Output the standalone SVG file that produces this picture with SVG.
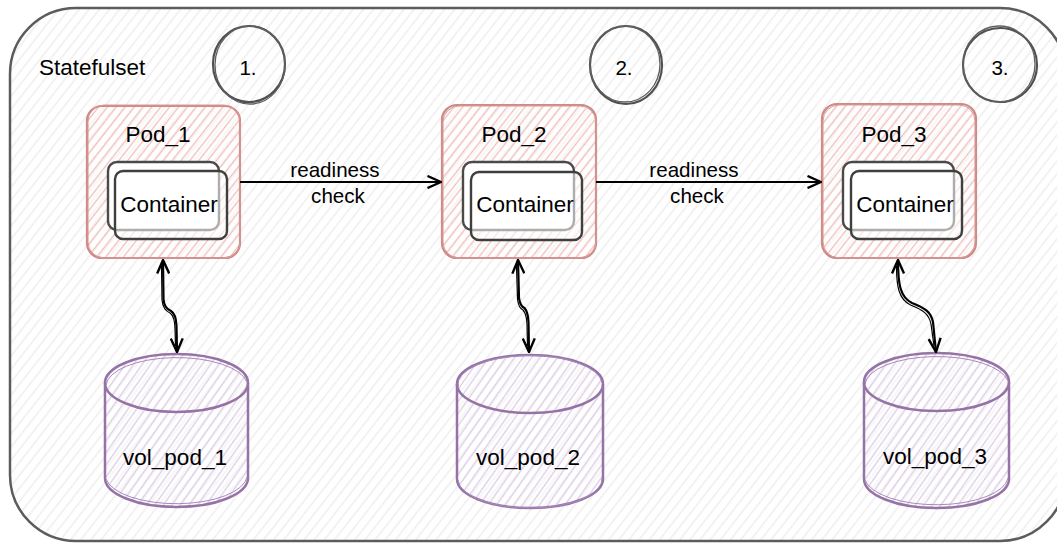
<svg xmlns="http://www.w3.org/2000/svg" width="1057" height="543" viewBox="0 0 1057 543">
  <style>
    text { font-family: "Liberation Sans", Arial, Helvetica, sans-serif; fill: #000; }
    .lbl { font-size: 22.5px; text-anchor: middle; }
    .small { font-size: 20.6px; text-anchor: middle; }
    .outer { fill: url(#hatch-grey); stroke: #5c5c5c; stroke-width: 2.5; }
    .pod { fill: url(#hatch-pink); stroke: #cf8a86; stroke-width: 2.2; }
    .pod2 { fill: none; stroke: #d99a96; stroke-width: 1; }
    .ctr-back { fill: #fff; stroke: #4a4a4a; stroke-width: 2.4; }
    .ctr-front { fill: #fff; fill-opacity: 0.55; stroke: #3f3f3f; stroke-width: 2.4; }
    .step { fill: none; stroke: #505050; stroke-width: 2.2; }
    .step2 { fill: none; stroke: #606060; stroke-width: 1.3; }
    .cyl { fill: url(#hatch-purple); stroke: #9673a6; stroke-width: 2.5; }
    .cyl2 { fill: none; stroke: #a88bb8; stroke-width: 1; }
    .edge { fill: none; stroke: #000; stroke-width: 2.2; }
    .vlink { fill: none; stroke: #000; stroke-width: 2.2; marker-start: url(#open-head); marker-end: url(#open-head); }
    .vlink2 { fill: none; stroke: #000; stroke-width: 1.2; }
  </style>
  <defs>
    <pattern id="hatch-grey" patternUnits="userSpaceOnUse" width="8" height="8" patternTransform="rotate(-52)">
      <line x1="0" y1="4" x2="8" y2="4" stroke="#e9e9e9" stroke-width="1.2"/>
    </pattern>
    <pattern id="hatch-pink" patternUnits="userSpaceOnUse" width="7" height="7" patternTransform="rotate(-52)">
      <rect width="7" height="7" fill="#fff" fill-opacity="0.35"/>
      <line x1="0" y1="3.5" x2="7" y2="3.5" stroke="#f2bcb9" stroke-width="1.3"/>
    </pattern>
    <pattern id="hatch-purple" patternUnits="userSpaceOnUse" width="7" height="7" patternTransform="rotate(-55)">
      <rect width="7" height="7" fill="#fff" fill-opacity="0.35"/>
      <line x1="0" y1="3.5" x2="7" y2="3.5" stroke="#dccbe6" stroke-width="1.3"/>
    </pattern>
    <marker id="open-head" viewBox="0 0 16 14" refX="15" refY="7" markerWidth="16" markerHeight="14" markerUnits="userSpaceOnUse" orient="auto-start-reverse">
      <path d="M1.5,1 L15,7 L1.5,13" fill="none" stroke="#000" stroke-width="2.4" stroke-linejoin="miter"/>
    </marker>
  </defs>

  <!-- StatefulSet frame -->
  <g id="statefulset">
    <rect class="outer" x="10" y="8" width="1056" height="533" rx="66" ry="66"/>
    <text x="39" y="75" style="font-size:22.5px">Statefulset</text>
  </g>

  <!-- rollout order markers -->
  <g id="step-1">
    <ellipse class="step" cx="249" cy="64" rx="36" ry="38"/>
    <ellipse class="step2" cx="250" cy="65" rx="35" ry="39"/>
    <text class="small" x="248" y="75">1.</text>
  </g>
  <g id="step-2">
    <ellipse class="step" cx="626" cy="65" rx="36" ry="39"/>
    <ellipse class="step2" cx="625" cy="64" rx="35" ry="38"/>
    <text class="small" x="624" y="75">2.</text>
  </g>
  <g id="step-3">
    <ellipse class="step" cx="1000" cy="65" rx="37" ry="37"/>
    <ellipse class="step2" cx="999" cy="64" rx="36" ry="38"/>
    <text class="small" x="1000" y="75">3.</text>
  </g>

  <!-- pods -->
  <g id="pod-1">
    <rect class="pod" x="87" y="106" width="153" height="152" rx="15"/>
    <rect class="pod2" x="88" y="105" width="152" height="153" rx="16"/>
    <text class="lbl" x="158" y="142">Pod_1</text>
    <g id="container-1">
      <rect class="ctr-back" x="108" y="162" width="111" height="68" rx="9"/>
      <rect class="ctr-front" x="115" y="171" width="112" height="68" rx="8"/>
      <text class="lbl" x="169" y="212">Container</text>
    </g>
  </g>
  <g id="pod-2">
    <rect class="pod" x="442" y="105" width="154" height="153" rx="15"/>
    <rect class="pod2" x="443" y="106" width="153" height="152" rx="16"/>
    <text class="lbl" x="514" y="142">Pod_2</text>
    <g id="container-2">
      <rect class="ctr-back" x="463" y="162" width="111" height="68" rx="9"/>
      <rect class="ctr-front" x="471" y="172" width="111" height="68" rx="8"/>
      <text class="lbl" x="525" y="212">Container</text>
    </g>
  </g>
  <g id="pod-3">
    <rect class="pod" x="822" y="104" width="154" height="154" rx="15"/>
    <rect class="pod2" x="823" y="105" width="152" height="153" rx="16"/>
    <text class="lbl" x="894" y="142">Pod_3</text>
    <g id="container-3">
      <rect class="ctr-back" x="843" y="162" width="111" height="68" rx="9"/>
      <rect class="ctr-front" x="851" y="171" width="111" height="68" rx="8"/>
      <text class="lbl" x="905" y="212">Container</text>
    </g>
  </g>

  <!-- persistent volumes -->
  <g id="vol-1">
    <path class="cyl" d="M105,383 A71.5,29 0 0 1 248,383 L248,478 A71.5,29 0 0 1 105,478 Z"/>
    <path class="cyl2" d="M106,385 A71,29 0 0 1 247,382 M106,479 A71,29 0 0 0 247,477"/>
    <path class="cyl" style="fill:none" d="M105,383 A71.5,29 0 0 0 248,383"/>
    <text class="lbl" x="175" y="465">vol_pod_1</text>
  </g>
  <g id="vol-2">
    <path class="cyl" d="M457,384 A73,29 0 0 1 603,384 L603,479 A73,29 0 0 1 457,479 Z"/>
    <path class="cyl2" d="M458,386 A72,29 0 0 1 602,383 M458,480 A72,29 0 0 0 602,478"/>
    <path class="cyl" style="fill:none" d="M457,384 A73,29 0 0 0 603,384"/>
    <text class="lbl" x="528" y="465">vol_pod_2</text>
  </g>
  <g id="vol-3">
    <path class="cyl" d="M864,382 A72.5,29 0 0 1 1009,382 L1009,479 A72.5,29 0 0 1 864,479 Z"/>
    <path class="cyl2" d="M865,384 A72,29 0 0 1 1008,381 M865,480 A72,29 0 0 0 1008,478"/>
    <path class="cyl" style="fill:none" d="M864,382 A72.5,29 0 0 0 1009,382"/>
    <text class="lbl" x="935" y="464">vol_pod_3</text>
  </g>

  <!-- connectors -->
  <g id="connectors">
    <path class="edge" d="M240,182 L441,182" marker-end="url(#open-head)"/>
    <text class="small" x="335" y="177">readiness</text>
    <text class="small" x="338" y="203">check</text>

    <path class="edge" d="M596,182 L821,182" marker-end="url(#open-head)"/>
    <text class="small" x="694" y="177">readiness</text>
    <text class="small" x="697" y="203">check</text>

    <path class="vlink" d="M163,260 L163.5,299 Q164,308 171,311 Q176,314 176.5,326 L177,352"/>
    <path class="vlink2" d="M161.5,266 L162,300 Q163,310 170,313 Q174.5,316 175,328 L175.5,346"/>

    <path class="vlink" d="M518,260 L519,298 Q520,306 524.5,308 Q528,312 528.5,322 L529,352"/>
    <path class="vlink2" d="M516.5,266 L517.5,299 Q518.5,308 523,310 Q526.5,314 527,324 L527.5,346"/>

    <path class="vlink" d="M898,260 C898,284 900,297 912,303 C925,308 931,312 933,322 L936,352"/>
    <path class="vlink2" d="M896.5,266 C896.5,286 898.5,299 910.5,305 C923,310 929,314 931,324 L934,346"/>
  </g>
</svg>
